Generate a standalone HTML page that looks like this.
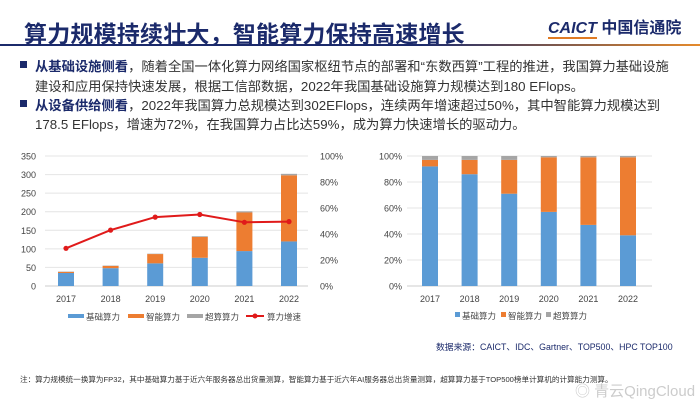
<!DOCTYPE html>
<html><head><meta charset="utf-8"><style>
body{margin:0;width:700px;height:406px;overflow:hidden;background:#fff;font-family:"Liberation Sans","Noto Sans CJK SC",sans-serif;position:relative}
.abs{position:absolute;white-space:nowrap}
.title{left:24px;top:15px;font-size:23px;font-weight:bold;color:#1b2a6b;letter-spacing:0.2px}
.bl{font-size:13.3px;color:#333;left:35px}
.bl b{color:#1b2a6b}
.sq{position:absolute;width:7px;height:7px;background:#1b2a6b;left:20px}
</style></head><body>
<div class="abs title">算力规模持续壮大，智能算力保持高速增长</div>
<div class="abs" style="left:548px;top:14px;font-size:16px;font-weight:bold;color:#1b2a6b"><span style="font-style:italic;border-bottom:2px solid #e07b24">CAICT</span> 中国信通院</div>
<div class="abs" style="left:0;top:44px;width:700px;height:2px;background:linear-gradient(90deg,#1b2a6b 0%,#1b2a6b 60%,#e58a2c 100%)"></div>
<div class="sq" style="top:61px"></div>
<div class="abs bl" style="top:56px"><b>从基础设施侧看</b>，随着全国一体化算力网络国家枢纽节点的部署和“东数西算”工程的推进，我国算力基础设施</div>
<div class="abs bl" style="top:76px">建设和应用保持快速发展，根据工信部数据，2022年我国基础设施算力规模达到180 EFlops。</div>
<div class="sq" style="top:100px"></div>
<div class="abs bl" style="top:95px"><b>从设备供给侧看</b>，2022年我国算力总规模达到302EFlops，连续两年增速超过50%，其中智能算力规模达到</div>
<div class="abs bl" style="top:114px">178.5 EFlops，增速为72%，在我国算力占比达59%，成为算力快速增长的驱动力。</div>
<svg id="c" class="abs" style="left:0;top:0" width="700" height="406"></svg>
<div class="abs" style="left:436px;top:340px;font-size:8.8px;color:#1b2a6b">数据来源：CAICT、IDC、Gartner、TOP500、HPC TOP100</div>
<div class="abs" style="left:20px;top:374px;font-size:7.6px;color:#333">注：算力规模统一换算为FP32，其中基础算力基于近六年服务器总出货量测算，智能算力基于近六年AI服务器总出货量测算，超算算力基于TOP500榜单计算机的计算能力测算。</div>
<div class="abs" style="left:575px;top:380px;font-size:15px;color:#ccc">◎ 青云QingCloud</div>
<script>
const years=['2017','2018','2019','2020','2021','2022'];
const baseVals=[35,48,61,76,94,120];
const smartVals=[3,6,25,56,104,178];
const superVals=[1,1,1,2,3,4];
const growthVals=[29,43,53,55,49,49.5];
const leftTicks=[0,50,100,150,200,250,300,350];
const pctTicks=[0,20,40,60,80,100];
const shareBase=[92,86,71,57,47,39];
const shareSmart=[5,11,26,42,52,60];
const shareSuper=[3,3,3,1,1,1];
const NS='http://www.w3.org/2000/svg';
const svg=document.getElementById('c');
const C={b:'#5b9bd5',s:'#ed7d31',u:'#a5a5a5',l:'#e01a1a'};
function mk(t,a,p){const e=document.createElementNS(NS,t);for(const k in a)e.setAttribute(k,a[k]);(p||svg).appendChild(e);return e;}
const y0=286,yT=156;
const yL=v=>y0-(v/350)*(y0-yT);
const yP=v=>y0-(v/100)*(y0-yT);
const xL=i=>66+i*44.6, xR=i=>430+i*39.6;
leftTicks.forEach(t=>{
 const g=mk('line',{x1:45,x2:308,y1:yL(t),y2:yL(t),stroke:t?'#e4e4e4':'#ccc','stroke-width':1});
 
 const l=mk('text',{x:36,y:yL(t)+3.5,'font-size':9,'text-anchor':'end',fill:'#444'});l.textContent=t;
 
});
pctTicks.forEach(t=>{
 const l=mk('text',{x:320,y:yP(t)+3.5,'font-size':9,fill:'#444'});l.textContent=t+'%';
 
});
years.forEach((y,i)=>{
 const x=xL(i),w=16;
 let acc=0;
 [[baseVals[i],C.b,'bar-base'],[smartVals[i],C.s,'bar-smart'],[superVals[i],C.u,'bar-super']].forEach(([v,c,n])=>{
  const r=mk('rect',{x:x-w/2,y:yL(acc+v),width:w,height:yL(acc)-yL(acc+v),fill:c});
  acc+=v;});
 const t=mk('text',{x:x,y:302,'font-size':9,'text-anchor':'middle',fill:'#444'});t.textContent=y;
 
});
const pl=mk('polyline',{points:years.map((y,i)=>xL(i)+','+yP(growthVals[i])).join(' '),fill:'none',stroke:C.l,'stroke-width':2});

years.forEach((y,i)=>{const c=mk('circle',{cx:xL(i),cy:yP(growthVals[i]),r:2.6,fill:C.l});
 });
[['基础算力',C.b,68],['智能算力',C.s,128],['超算算力',C.u,187]].forEach(([n,c,x])=>{
 const r=mk('rect',{x:x,y:314,width:16,height:4,fill:c});
 const t=mk('text',{x:x+18,y:320,'font-size':8.5,fill:'#444'});t.textContent=n;
});
{const l=mk('line',{x1:246,x2:264,y1:316,y2:316,stroke:C.l,'stroke-width':2});
 const c=mk('circle',{cx:255,cy:316,r:2.5,fill:C.l});
 const t=mk('text',{x:267,y:320,'font-size':8.5,fill:'#444'});t.textContent='算力增速';}
pctTicks.forEach(t=>{
 const g=mk('line',{x1:407,x2:652,y1:yP(t),y2:yP(t),stroke:t?'#e4e4e4':'#ccc','stroke-width':1});
 
 const l=mk('text',{x:402,y:yP(t)+3.5,'font-size':9,'text-anchor':'end',fill:'#444'});l.textContent=t+'%';
 
});
years.forEach((y,i)=>{
 const x=xR(i),w=16;let acc=0;
 [[shareBase[i],C.b,'share-base'],[shareSmart[i],C.s,'share-smart'],[shareSuper[i],C.u,'share-super']].forEach(([v,c,n])=>{
  const r=mk('rect',{x:x-w/2,y:yP(acc+v),width:w,height:yP(acc)-yP(acc+v),fill:c});
  acc+=v;});
 const t=mk('text',{x:x,y:302,'font-size':9,'text-anchor':'middle',fill:'#444'});t.textContent=y;
 
});
[['基础算力',C.b,455],['智能算力',C.s,501],['超算算力',C.u,546]].forEach(([n,c,x])=>{
 const r=mk('rect',{x:x,y:312,width:5,height:5,fill:c});
 const t=mk('text',{x:x+7,y:319,'font-size':8.5,fill:'#444'});t.textContent=n;
});
</script>
</body></html>
